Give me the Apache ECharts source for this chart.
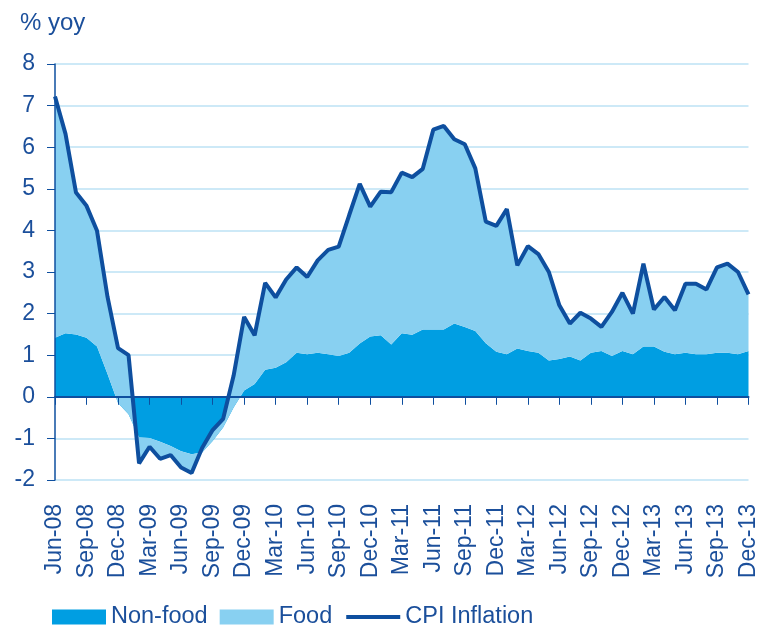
<!DOCTYPE html>
<html>
<head>
<meta charset="utf-8">
<title>CPI inflation</title>
<script src="https://cdn.jsdelivr.net/npm/echarts@6/dist/echarts.min.js"></script>
<style>
    html, body { margin: 0; padding: 0; background: #fff; }
    #cpiChart { width: 760px; height: 625px; }
</style>
</head>
<body>
<div id="cpiChart"></div>
<script>
// months Jun-08 .. Dec-13
const months = [
    'Jun-08','Jul-08','Aug-08','Sep-08','Oct-08','Nov-08','Dec-08',
    'Jan-09','Feb-09','Mar-09','Apr-09','May-09','Jun-09','Jul-09','Aug-09','Sep-09','Oct-09','Nov-09','Dec-09',
    'Jan-10','Feb-10','Mar-10','Apr-10','May-10','Jun-10','Jul-10','Aug-10','Sep-10','Oct-10','Nov-10','Dec-10',
    'Jan-11','Feb-11','Mar-11','Apr-11','May-11','Jun-11','Jul-11','Aug-11','Sep-11','Oct-11','Nov-11','Dec-11',
    'Jan-12','Feb-12','Mar-12','Apr-12','May-12','Jun-12','Jul-12','Aug-12','Sep-12','Oct-12','Nov-12','Dec-12',
    'Jan-13','Feb-13','Mar-13','Apr-13','May-13','Jun-13','Jul-13','Aug-13','Sep-13','Oct-13','Nov-13','Dec-13'
];

// contribution of non-food items (pp)
const nonFood = [
    1.42, 1.53, 1.50, 1.42, 1.21, 0.55, -0.15,
    -0.42, -0.98, -0.99, -1.08, -1.18, -1.31, -1.38, -1.34, -1.06, -0.74, -0.26, 0.15,
    0.31, 0.65, 0.70, 0.83, 1.06, 1.02, 1.06, 1.02, 0.98, 1.06, 1.28, 1.45,
    1.48, 1.26, 1.53, 1.49, 1.62, 1.62, 1.62, 1.76, 1.68, 1.58, 1.29, 1.08,
    1.02, 1.16, 1.10, 1.06, 0.87, 0.91, 0.97, 0.87, 1.06, 1.10, 0.98, 1.10,
    1.02, 1.21, 1.21, 1.08, 1.02, 1.06, 1.02, 1.02, 1.06, 1.06, 1.02, 1.10
];

// contribution of food items (pp)
const food = [
    5.80, 4.79, 3.41, 3.17, 2.78, 1.85, 1.32,
    1.42, -0.62, -0.21, -0.41, -0.22, -0.39, -0.45, 0.11, 0.26, 0.21, 0.77, 1.77,
    1.17, 2.09, 1.69, 1.99, 2.05, 1.86, 2.22, 2.51, 2.63, 3.31, 3.84, 3.12,
    3.45, 3.66, 3.86, 3.79, 3.86, 4.80, 4.89, 4.43, 4.39, 3.91, 2.92, 3.03,
    3.49, 2.00, 2.52, 2.37, 2.13, 1.29, 0.79, 1.15, 0.82, 0.58, 1.06, 1.40,
    0.98, 1.99, 0.89, 1.32, 1.06, 1.66, 1.70, 1.56, 2.05, 2.14, 1.98, 1.36
];

// headline CPI inflation, % yoy
const cpi = [
    7.22, 6.32, 4.91, 4.59, 3.99, 2.40, 1.17,
    1.00, -1.60, -1.20, -1.49, -1.40, -1.70, -1.83, -1.23, -0.80, -0.53, 0.51, 1.92,
    1.48, 2.74, 2.39, 2.82, 3.11, 2.88, 3.28, 3.53, 3.61, 4.37, 5.12, 4.57,
    4.93, 4.92, 5.39, 5.28, 5.48, 6.42, 6.51, 6.19, 6.07, 5.49, 4.21, 4.11,
    4.51, 3.16, 3.62, 3.43, 3.00, 2.20, 1.76, 2.02, 1.88, 1.68, 2.04, 2.50,
    2.00, 3.20, 2.10, 2.40, 2.08, 2.72, 2.72, 2.58, 3.11, 3.20, 3.00, 2.46
];

const yTicks = [-2, 8, 1]; // min, max, step

const darkBlue = '#0e4f9f';
const textBlue = '#1b4f9b';
const nonFoodColor = '#009ee2';
const foodColor = '#88d0f1';
const gridColor = '#cde9f7';
const font = 'Liberation Sans, Arial, sans-serif';

let cpiChart = echarts.init(document.getElementById('cpiChart'));

cpiChart.setOption({
    animation: false,
    textStyle: { fontFamily: font },
    title: {
        text: '% yoy',
        left: 15,
        top: 6,
        textStyle: { fontSize: 24, fontWeight: 'normal', color: textBlue, fontFamily: font }
    },
    legend: {
        left: 47,
        top: 600,
        itemWidth: 54,
        itemHeight: 15,
        itemGap: 12,
        textStyle: { fontSize: 23.5, color: textBlue, fontFamily: font },
        data: [
            { name: 'Non-food', icon: 'rect' },
            { name: 'Food', icon: 'rect' },
            // hide the marker circle, keep only the line
            {
                name: 'CPI Inflation',
                itemStyle: { color: 'rgba(0,0,0,0)', borderColor: 'rgba(0,0,0,0)', borderWidth: 0 },
                lineStyle: { width: 4, color: darkBlue }
            }
        ]
    },
    grid: {
        left: 55,
        right: 10,
        top: 64,
        bottom: 145
    },
    xAxis: [
        {
            // axis line at zero with quarterly ticks
            type: 'category',
            data: months,
            boundaryGap: false,
            position: 'bottom',
            z: 10,
            axisLine: { onZero: true, lineStyle: { color: darkBlue, width: 2 } },
            axisTick: { interval: 2, length: 8, lineStyle: { color: darkBlue, width: 1 } },
            axisLabel: { show: false },
            splitLine: { show: false }
        },
        {
            // labels only, at the bottom of the plot
            type: 'category',
            data: months,
            boundaryGap: false,
            position: 'bottom',
            axisLine: { show: false, onZero: false },
            axisTick: { show: false },
            axisLabel: {
                interval: 2,
                rotate: 90,
                margin: 24,
                fontSize: 23,
                color: textBlue,
                fontFamily: font
            },
            splitLine: { show: false }
        }
    ],
    yAxis: [
        {
            type: 'value',
            min: yTicks[0],
            max: yTicks[1],
            interval: yTicks[2],
            axisLine: { show: false },
            axisTick: { show: true, length: 8, lineStyle: { color: darkBlue } },
            axisLabel: { fontSize: 23, color: textBlue, margin: 20, fontFamily: font },
            splitLine: { lineStyle: { color: gridColor, width: 2 } }
        },
        {
            // left axis line drawn above the areas
            type: 'value',
            min: yTicks[0],
            max: yTicks[1],
            interval: yTicks[2],
            position: 'left',
            z: 10,
            axisLine: { show: true, onZero: false, lineStyle: { color: darkBlue, width: 1.5 } },
            axisTick: { show: false },
            axisLabel: { show: false },
            splitLine: { show: false }
        }
    ],
    series: [
        {
            name: 'Non-food',
            type: 'line',
            stack: 'cpi',
            stackStrategy: 'all',
            symbol: 'none',
            lineStyle: { width: 0 },
            itemStyle: { color: nonFoodColor },
            areaStyle: { color: nonFoodColor, opacity: 1 },
            data: nonFood
        },
        {
            name: 'Food',
            type: 'line',
            stack: 'cpi',
            stackStrategy: 'all',
            symbol: 'none',
            lineStyle: { width: 0 },
            itemStyle: { color: foodColor },
            areaStyle: { color: foodColor, opacity: 1 },
            data: food
        },
        {
            name: 'CPI Inflation',
            type: 'line',
            symbol: 'none',
            z: 20,
            lineStyle: { color: darkBlue, width: 4 },
            itemStyle: { color: darkBlue },
            data: cpi
        }
    ]
});
</script>
</body>
</html>
